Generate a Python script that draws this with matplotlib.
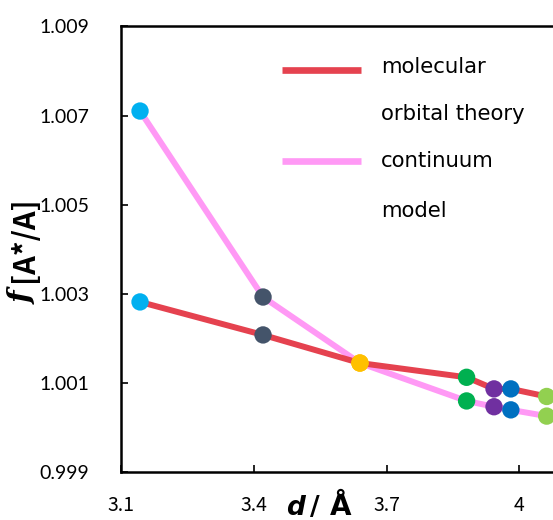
import matplotlib
matplotlib.use("Agg")
import matplotlib.pyplot as plt

# data
d_values = [3.143, 3.421, 3.640, 3.881, 3.943, 3.981, 4.062]
mo_theory = [1.00282, 1.00208, 1.00145, 1.00113, 1.00087, 1.00087, 1.00070]
continuum = [1.00710, 1.00293, 1.00145, 1.00060, 1.00047, 1.00040, 1.00026]
point_colors = ["#00B0F0", "#44546A", "#FFC000", "#00B050", "#7030A0", "#0070C0", "#92D050"]
x_ticks = [3.1, 3.4, 3.7, 4.0]
x_tick_labels = ["3.1", "3.4", "3.7", "4"]
y_ticks = [0.999, 1.001, 1.003, 1.005, 1.007, 1.009]
y_tick_labels = ["0.999", "1.001", "1.003", "1.005", "1.007", "1.009"]
legend_labels = ["molecular", "orbital theory", "continuum", "model"]

RED = "#E5424F"
PINK = "#FF99F5"

W, H = 553, 520
fig = plt.figure(figsize=(W / 100, H / 100), dpi=100)
ax_left, ax_bottom = 121 / W, (H - 472.3) / H
ax_height = (472.3 - 26.3) / H
xmin, xmax = 3.1, 4.2
ax_width = (xmax - xmin) * 442.5 / W
ax = fig.add_axes([ax_left, ax_bottom, ax_width, ax_height])

ax.plot(d_values, continuum, color=PINK, lw=4.3, zorder=2, solid_capstyle="butt")
ax.plot(d_values, mo_theory, color=RED, lw=4.3, zorder=2, solid_capstyle="butt")
for xs, ys in [(d_values, continuum), (d_values, mo_theory)]:
    ax.scatter(xs, ys, s=12.5 ** 2, c=point_colors, zorder=3, linewidths=0)

ax.set_xlim(xmin, xmax)
ax.set_ylim(0.999, 1.009)
ax.set_xticks(x_ticks)
ax.set_xticklabels(x_tick_labels, fontsize=14, family=["Noto Sans CJK JP", "DejaVu Sans"])
ax.set_yticks(y_ticks)
ax.set_yticklabels(y_tick_labels, fontsize=14, family=["Lato", "DejaVu Sans"])
ax.tick_params(axis="x", direction="in", length=5, width=1.2, pad=16)
ax.tick_params(axis="y", direction="in", length=5, width=1.2, pad=23)
for s in ax.spines.values():
    s.set_linewidth(1.8)

# legend (custom)
leg_y = [70, 161]
for yy, col in zip(leg_y, [RED, PINK]):
    fig.add_artist(plt.Line2D([282 / W, 361 / W], [1 - yy / H, 1 - yy / H], color=col, lw=4.8,
                              solid_capstyle="butt"))
for txt, yy in zip(legend_labels, [67, 114, 161, 211]):
    fig.text(381 / W, 1 - yy / H, txt, fontsize=15.3, va="center", ha="left",
             family=["DejaVu Sans"])

# axis titles
fig.text(23 / W, 1 - 298 / H, "f", rotation=90, fontsize=21, fontweight="bold",
         style="italic", va="center", ha="center", family=["DejaVu Serif"])
fig.text(24 / W, 1 - 239 / H, "[A*/A]", rotation=90, fontsize=21, fontweight="bold",
         va="center", ha="center", family=["Noto Sans CJK JP", "DejaVu Sans"])
fig.text(295 / W, 1 - 515 / H, "d", fontsize=19, fontweight="bold", style="italic",
         va="baseline", ha="center", family=["DejaVu Sans"])
fig.text(315 / W, 1 - 515 / H, "/", fontsize=19, fontweight="bold",
         va="baseline", ha="center", family=["DejaVu Sans"])
fig.text(341 / W, 1 - 515 / H, "Å", fontsize=20, fontweight="bold",
         va="baseline", ha="center", family=["DejaVu Sans"])

fig.savefig("out.png", dpi=100)
